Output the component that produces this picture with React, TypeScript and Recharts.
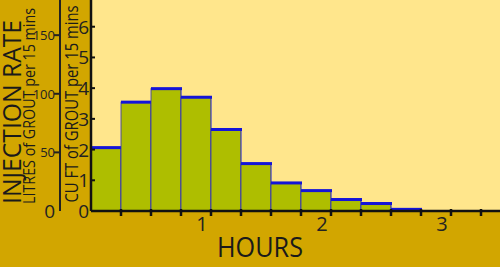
import React from 'react';
import { ComposedChart, Bar, XAxis, YAxis, CartesianGrid } from 'recharts';

// Each bar = one 15-minute interval; x = midpoint in hours
const intervalMid = [0.125, 0.375, 0.625, 0.875, 1.125, 1.375, 1.625, 1.875, 2.125, 2.375, 2.625];
const cuFtPer15 = [2.08, 3.56, 4.0, 3.72, 2.67, 1.56, 0.93, 0.68, 0.39, 0.26, 0.07];

const quarterTicks = [0.25, 0.5, 0.75, 1, 1.25, 1.5, 1.75, 2, 2.25, 2.5, 2.75, 3, 3.25];
const hourLabels = [1, 2, 3];
const cuFtTicks = [0, 1, 2, 3, 4, 5, 6];
const litreTicks = [0, 50, 100, 150];

const data = intervalMid.map((t, i) => ({ t, v: cuFtPer15[i] }));

const FONT = "'Open Sans', 'DejaVu Sans', sans-serif";
const GOLD = '#D2A600';
const PALE = '#FFE68C';
const OLIVE = '#AEBE00';
const BLUE = '#1414D8';

const BarShape = (props: any) => {
  const { x, y, width, height } = props;
  if (!width || height == null) return null;
  return (
    <g>
      <rect x={x} y={y} width={width} height={height} fill={OLIVE} />
      <line x1={x + width} y1={y} x2={x + width} y2={y + height} stroke={BLUE} strokeWidth={1} />
      <line x1={x} y1={y} x2={x} y2={y + height} stroke="#3030c0" strokeWidth={0.8} />
      <rect x={x} y={y - 1} width={width + 1} height={3} fill={BLUE} />
    </g>
  );
};

const XTick = (props: any) => {
  const { x, y, payload } = props;
  const isHour = hourLabels.includes(payload.value);
  return (
    <g>
      <line x1={x} y1={y - 2} x2={x} y2={y + 5} stroke="#111" strokeWidth={2.5} />
      {isHour && (
        <text x={x - 9} y={y + 20} textAnchor="middle" fontFamily={FONT} fontSize={20} fill="#222">
          {payload.value}
        </text>
      )}
    </g>
  );
};

const CuFtTick = (props: any) => {
  const { x, y, payload } = props;
  return (
    <g>
      <line x1={x} y1={y} x2={x + 4} y2={y} stroke="#111" strokeWidth={2} />
      <text x={x - 2} y={y + 7} textAnchor="end" fontFamily={FONT} fontSize={19} fill="#222">
        {payload.value}
      </text>
    </g>
  );
};

const LitreTick = (props: any) => {
  const { x, y, payload } = props;
  const zero = payload.value === 0;
  return (
    <g>
      {!zero && <line x1={x - 6} y1={y} x2={x} y2={y} stroke="#222" strokeWidth={2} />}
      <text
        x={zero ? x - 5 : x - 5}
        y={zero ? y + 7 : y + 5}
        textAnchor="end"
        fontFamily={FONT}
        fontSize={zero ? 19 : 13}
        fill="#222"
      >
        {payload.value}
      </text>
    </g>
  );
};

const VText = ({ x, y, size, len, sy, children }: any) => (
  <text
    transform={`translate(${x},${y}) rotate(-90) scale(1,${sy})`}
    textAnchor="middle"
    fontSize={size}
    textLength={len}
    lengthAdjust="spacingAndGlyphs"
  >
    {children}
  </text>
);

const Titles = () => (
  <g fontFamily={FONT} fill="#1a1a1a">
    <VText x={21} y={112} size={24.5} len={184} sy={1.03}>INJECTION RATE</VText>
    <VText x={35} y={106} size={14.3} len={196} sy={1.17}>LITRES of GROUT per 15 mins</VText>
    <VText x={78} y={104} size={14.8} len={197} sy={1.22}>CU FT of GROUT per 15 mins</VText>
    <text
      transform="translate(260,257) scale(1,1.12)"
      textAnchor="middle"
      fontSize={25}
      textLength={86}
      lengthAdjust="spacingAndGlyphs"
    >
      HOURS
    </text>
  </g>
);

const layer: React.CSSProperties = { position: 'absolute', left: 0, top: 0 };

export default function App() {
  return (
    <div style={{ position: 'fixed', left: 0, top: 0, width: 500, height: 267, background: GOLD }}>
      <div style={layer}>
        <ComposedChart
          width={500}
          height={267}
          data={data}
          margin={{ top: 0, right: 0, bottom: 0, left: 0 }}
          barCategoryGap="0%"
          barGap={0}
        >
          <CartesianGrid fill={PALE} horizontal={false} vertical={false} />
          <XAxis
            dataKey="t"
            type="number"
            domain={[0, 3.4083]}
            ticks={quarterTicks}
            allowDataOverflow
            height={56}
            tick={<XTick />}
            tickLine={false}
            tickSize={0}
            tickMargin={0}
            axisLine={{ stroke: '#111', strokeWidth: 2.5 }}
            interval={0}
          />
          <YAxis
            yAxisId="cuft"
            orientation="left"
            width={91}
            domain={[0, 6.87]}
            ticks={cuFtTicks}
            allowDataOverflow
            tick={<CuFtTick />}
            tickLine={false}
            tickSize={0}
            tickMargin={0}
            axisLine={{ stroke: '#111', strokeWidth: 2.5 }}
            interval={0}
          />
          <Bar yAxisId="cuft" dataKey="v" shape={<BarShape />} isAnimationActive={false} />
        </ComposedChart>
      </div>
      <div style={layer}>
        <ComposedChart
          width={500}
          height={267}
          data={data}
          margin={{ top: 0, right: 0, bottom: 56, left: 0 }}
        >
          <XAxis dataKey="t" type="number" domain={[0, 3.4083]} hide />
          <YAxis
            yAxisId="litres"
            orientation="left"
            width={60}
            domain={[0, 180]}
            ticks={litreTicks}
            allowDataOverflow
            tick={<LitreTick />}
            tickLine={false}
            tickSize={0}
            tickMargin={0}
            axisLine={{ stroke: '#222', strokeWidth: 2 }}
            interval={0}
          />
          <Titles />
        </ComposedChart>
      </div>
    </div>
  );
}
